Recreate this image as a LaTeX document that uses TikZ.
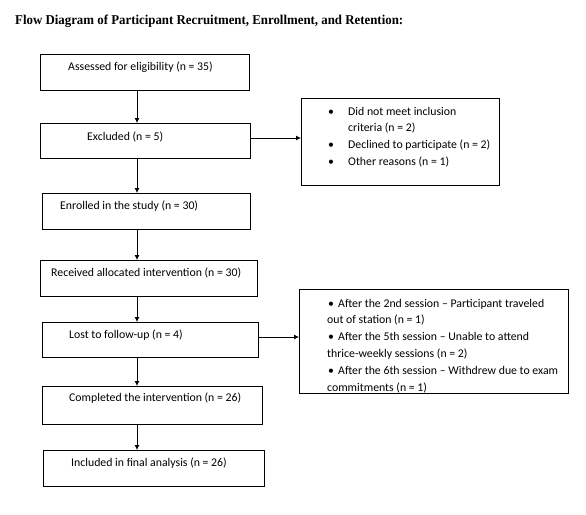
\documentclass[tikz,border=0pt]{standalone}
\usepackage{fontspec}
\setmainfont{Carlito}
\newfontfamily\titlefont{Liberation Serif}
\usetikzlibrary{arrows.meta}
\tikzset{
  box/.style={draw, line width=0.8pt, inner sep=0pt, outer sep=0pt},
  txt/.style={anchor=base west, inner sep=0pt, font=\fontsize{11.8}{16.8}\selectfont},
  listtxt/.style={anchor=base west, inner sep=0pt, align=left, font=\fontsize{11.8}{16.8}\selectfont},
  arr/.style={line width=0.8pt, -{Latex[length=5pt,width=5pt]}}
}
\begin{document}
\begin{tikzpicture}[x=1pt,y=1pt]
\useasboundingbox (0,0) rectangle (586,-514);
% title
\node[anchor=base west, inner sep=0pt] (title) at (15,-24)
  {\resizebox{388pt}{\height}{\titlefont\bfseries\fontsize{13.5}{16}\selectfont Flow Diagram of Participant Recruitment, Enrollment, and Retention:}};
% main boxes
\node[box, minimum width=209pt, minimum height=36pt] (a) at (144.5,-72) {};
\node[box, minimum width=210pt, minimum height=35pt] (b) at (145,-140.5) {};
\node[box, minimum width=208pt, minimum height=36pt] (c) at (146,-211) {};
\node[box, minimum width=217pt, minimum height=36pt] (d) at (148.5,-278) {};
\node[box, minimum width=216pt, minimum height=35pt] (e) at (150,-339.5) {};
\node[box, minimum width=220pt, minimum height=38pt] (f) at (152,-405) {};
\node[box, minimum width=221pt, minimum height=36pt] (g) at (153.5,-468) {};
% side boxes
\node[box, minimum width=198pt, minimum height=87pt] (r1) at (400,-141.5) {};
\node[box, minimum width=269pt, minimum height=104pt] (r2) at (433.5,-341) {};
% texts
\node[txt] (ta) at (68,-70) {Assessed for eligibility (n = 35)};
\node[txt] (tb) at (87,-140) {Excluded (n = 5)};
\node[txt] (tc) at (60,-209) {Enrolled in the study (n = 30)};
\node[txt] (td) at (51,-276) {Received allocated intervention (n = 30)};
\node[txt] (te) at (69,-338) {Lost to follow-up (n = 4)};
\node[txt] (tf) at (69,-401) {Completed the intervention (n = 26)};
\node[txt] (tg) at (71,-466) {Included in final analysis (n = 26)};
% side box texts (base anchor = last line)
\node[listtxt] (l1) at (328,-165.4) {\makebox[20pt][l]{\textbullet}Did not meet inclusion\\
\hspace*{20pt}criteria (n = 2)\\
\makebox[20pt][l]{\textbullet}Declined to participate (n = 2)\\
\makebox[20pt][l]{\textbullet}Other reasons (n = 1)};
\node[listtxt] (l2) at (327,-391) {\hspace*{1pt}\makebox[10pt][l]{\textbullet}After the 2nd session -- Participant traveled\\
out of station (n = 1)\\
\hspace*{1pt}\makebox[10pt][l]{\textbullet}After the 5th session -- Unable to attend\\
thrice-weekly sessions (n = 2)\\
\hspace*{1pt}\makebox[10pt][l]{\textbullet}After the 6th session -- Withdrew due to exam\\
commitments (n = 1)};
% connectors
\coordinate (ax) at (137,0);
\draw[arr] (a.south -| ax) -- (b.north -| ax);
\draw[arr] (b.south -| ax) -- (c.north -| ax);
\draw[arr] (c.south -| ax) -- (d.north -| ax);
\draw[arr] (d.south -| ax) -- (e.north -| ax);
\draw[arr] (e.south -| ax) -- (f.north -| ax);
\draw[arr] (f.south -| ax) -- (g.north -| ax);
\coordinate (y1) at (0,-138);
\coordinate (y2) at (0,-337);
\draw[arr] (b.east |- y1) -- (r1.west |- y1);
\draw[arr] (e.east |- y2) -- (r2.west |- y2);
\end{tikzpicture}
\end{document}
